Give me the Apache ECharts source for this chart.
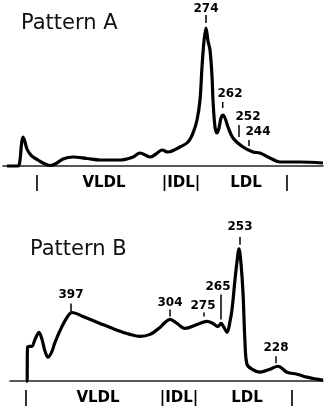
<!DOCTYPE html>
<html><head><meta charset="utf-8">
<script src="https://cdn.jsdelivr.net/npm/echarts@6/dist/echarts.min.js"></script>
<style>html,body{margin:0;padding:0;background:#fff}#c{width:326px;height:411px}</style>
</head><body><div id="c"></div>
<script>
// Pattern A densitometric scan: [mobility position, absorbance]
var curveA = [[7,0],[18,0],[20,6],[21.5,22],[23,29],[25,24],[27,17],[30,12],[33,9],[38,6],[43,3],[50,0.5],[57,3],[63,7],[73,9],[87,7.5],[100,6],[120,6],[133,9],[140,13],[150,9],[156,12],[162,16],[168,14],[180,19],[188,24],[193,33],[197,46],[200,66],[202,99],[204,125],[206,138],[208,125],[210,116],[212,90],[213,66],[215,39],[217,33],[219,38],[221,48],[223,51],[225,48],[228,39],[233,28],[243,19],[253,14],[260,13],[270,8],[280,4],[300,4],[323,3]];
// Pattern B densitometric scan
var curveB = [[26,0],[27,0],[27.5,34],[30,35],[32,35],[35,42],[39,49],[42,42],[45,30],[48,24],[52,30],[55,39],[62,55],[67,64],[72,69],[83,65],[100,58],[115,52],[130,47],[140,45],[150,47],[160,54],[165,59],[170,62],[177,58],[185,53],[197,57],[207,60],[213,58],[218,55],[221,58],[224,54],[227,49],[230,60],[232,72],[235,102],[237,120],[239,133],[241,118],[243,89],[245,39],[247,17],[252,12],[260,9],[270,12],[278,15],[287,9],[297,7],[307,4],[317,2],[323,1]];

// Peak annotations (particle diameters, Å)
var peakLabelsA = ['274','262','252','244'];
var peakTextA = [[206,157],[230,72],[248,49],[258,34]];
var peakTickA = [[206,151,143],[222.7,64,58],[239,41,29],[249,26,20]];
var peakLabelsB = ['253','397','304','275','265','228'];
var peakTextB = [[240,155],[71,87],[170,79],[203,76],[218,95],[276,33]];
var peakTickB = [[240,145,137],[71,78,70],[170,72,65],[204,69,65],[221,87,62],[276,25,18]];

// Lipoprotein class regions along the axis
var regionLabels = ['|','VLDL','|IDL|','LDL','|'];
var regionXA = [37,104,181,246,287];
var regionXB = [26,98,179,247,292];
var regionY = -17;

var titles = ['Pattern A','Pattern B'];

function textData(labels, pos){ return labels.map(function(l,i){ return {name:l, value:pos[i]}; }); }
function regionData(xs){ return regionLabels.map(function(l,i){ return {name:l, value:[xs[i], regionY]}; }); }

function tickSeries(ticks, idx){
  return {type:'custom', xAxisIndex:idx, yAxisIndex:idx, data:ticks, silent:true,
    renderItem:function(params, api){
      var p1 = api.coord([api.value(0), api.value(1)]);
      var p2 = api.coord([api.value(0), api.value(2)]);
      return {type:'line', shape:{x1:p1[0],y1:p1[1],x2:p2[0],y2:p2[1]}, style:{stroke:'#000', lineWidth:1.5}};
    }};
}
function labelSeries(data, idx, font){
  return {type:'scatter', xAxisIndex:idx, yAxisIndex:idx, data:data, symbolSize:1, clip:false, silent:true,
    itemStyle:{color:'rgba(0,0,0,0)'},
    label:{show:true, position:'inside', formatter:'{b}', color:'#000', opacity:1, textBorderWidth:0,
      fontFamily:'DejaVu Sans', fontWeight:'bold', fontSize:font}};
}
function lineSeries(data, idx){
  return {type:'line', xAxisIndex:idx, yAxisIndex:idx, data:data, showSymbol:false, smooth:0.35, clip:false,
    lineStyle:{color:'#000', width:3.2}, silent:true};
}

var chart = echarts.init(document.getElementById('c'), null, {renderer:'canvas'});
chart.setOption({
  animation:false,
  backgroundColor:'#fff',
  title:[
    {text:titles[0], left:21, top:13, padding:0, textStyle:{fontFamily:'DejaVu Sans', fontWeight:'normal', fontSize:21, color:'#111'}},
    {text:titles[1], left:30, top:239, padding:0, textStyle:{fontFamily:'DejaVu Sans', fontWeight:'normal', fontSize:21, color:'#111'}}
  ],
  grid:[
    {left:3, width:320, top:0, height:206},
    {left:10, width:313, top:212, height:200}
  ],
  xAxis:[
    {type:'value', gridIndex:0, min:3, max:323, axisLine:{onZero:true, lineStyle:{color:'#222', width:1.5}}, axisTick:{show:false}, axisLabel:{show:false}, splitLine:{show:false}},
    {type:'value', gridIndex:1, min:10, max:323, axisLine:{onZero:true, lineStyle:{color:'#222', width:1.5}}, axisTick:{show:false}, axisLabel:{show:false}, splitLine:{show:false}}
  ],
  yAxis:[
    {type:'value', gridIndex:0, min:-40, max:166, show:false},
    {type:'value', gridIndex:1, min:-30, max:170, show:false}
  ],
  series:[
    lineSeries(curveA,0),
    lineSeries(curveB,1),
    tickSeries(peakTickA,0),
    tickSeries(peakTickB,1),
    labelSeries(textData(peakLabelsA, peakTextA),0,12),
    labelSeries(textData(peakLabelsB, peakTextB),1,12),
    labelSeries(regionData(regionXA),0,15),
    labelSeries(regionData(regionXB),1,15)
  ]
});
</script></body></html>
